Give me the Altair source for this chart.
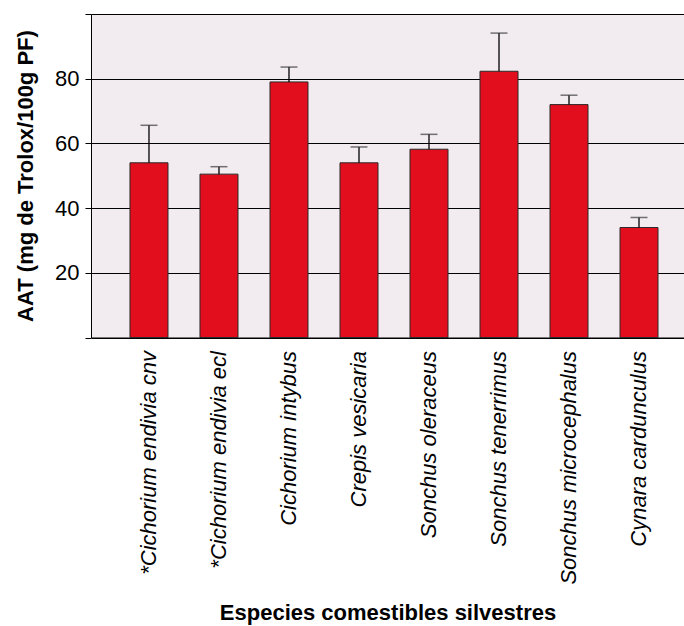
import altair as alt
import pandas as pd

species = ["*Cichorium endivia cnv", "*Cichorium endivia ecl", "Cichorium intybus",
           "Crepis vesicaria", "Sonchus oleraceus", "Sonchus tenerrimus",
           "Sonchus microcephalus", "Cynara cardunculus"]
aat = [54.0, 50.5, 79.0, 54.0, 58.2, 82.3, 72.0, 34.0]
err_top = [65.6, 52.8, 83.6, 58.9, 62.8, 94.1, 74.9, 37.1]
y_ticks = [0, 20, 40, 60, 80, 100]

df = pd.DataFrame({"sp": species, "aat": aat, "top": err_top})

FONT = "Liberation Sans"

x = alt.X(
    "sp:N", sort=species,
    scale=alt.Scale(paddingInner=0.457, paddingOuter=0.464, align=0.6),
    axis=alt.Axis(
        title="Especies comestibles silvestres", labelAngle=-90, ticks=False,
        labelPadding=13, labelFont=FONT, labelFontSize=22, labelFontStyle="italic",
        labelColor="black", labelLimit=400, domainColor="black", domainWidth=1,
        titleFont=FONT, titleFontSize=22, titleFontWeight="bold", titleColor="black",
        titleY=275, titleBaseline="middle",
    ),
)

y = alt.Y(
    "aat:Q",
    scale=alt.Scale(domain=[0, 100], nice=False),
    axis=alt.Axis(
        title="AAT (mg de Trolox/100g PF)", values=y_ticks,
        labelExpr="datum.value == 0 || datum.value == 100 ? '' : datum.label",
        grid=True, gridColor="black", gridWidth=1,
        tickColor="black", tickSize=6, tickWidth=1, labelPadding=6,
        labelFont=FONT, labelFontSize=22, labelColor="black",
        domainColor="black", domainWidth=1,
        titleFont=FONT, titleFontSize=22, titleFontWeight="bold", titleColor="black",
        titleX=-66, titleY=161.5, titleBaseline="middle", titleAlign="center",
    ),
)

base = alt.Chart(df)

bars = base.mark_bar(color="#e20d1d", stroke="#2a2a2a", strokeWidth=1).encode(x=x, y=y)
rules = base.mark_rule(color="black", strokeWidth=1.3).encode(x=x, y="aat:Q", y2="top:Q")
caps = base.mark_tick(color="#3a3a3a", size=17, thickness=1.5, orient="horizontal").encode(
    x=x, y="top:Q")

chart = alt.layer(bars, rules, caps).properties(
    width=593, height=323.5,
    autosize=alt.AutoSizeParams(type="none"),
    padding={"left": 91, "top": 14, "right": 0, "bottom": 288.5},
    background="white",
).configure_view(fill="#f2ecf0", stroke="transparent")

chart.save("out.html", embed_options={"renderer": "svg", "actions": False})
